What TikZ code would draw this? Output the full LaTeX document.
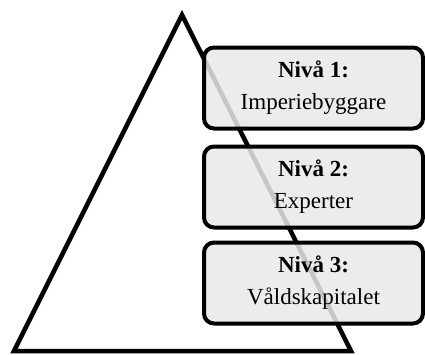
\documentclass[tikz,border=0pt]{standalone}
\usepackage{fontspec}
\setmainfont{Liberation Serif}
\tikzset{
  level/.style={draw=black, line width=4pt, rounded corners=10pt, fill=gray!17, fill opacity=0.85, text opacity=1,
    minimum width=219pt, minimum height=81pt, align=center, inner sep=0pt,
    font=\fontsize{23}{32}\selectfont},
  pyr/.style={draw=black, line width=4.5pt, line join=miter}
}
\begin{document}
\begin{tikzpicture}[x=1pt,y=-1pt]
\useasboundingbox (0,0) rectangle (425,354);
\coordinate (apex) at (182,15);
\coordinate (bl) at (14,351);
\coordinate (br) at (351,351);
\draw[pyr] (bl) -- (apex) -- (br) -- cycle;
\node[level] (n1) at (313.5,88) {\textbf{Nivå 1:}\\Imperiebyggare};
\node[level] (n2) at (313.5,187) {\textbf{Nivå 2:}\\Experter};
\node[level] (n3) at (313.5,283) {\textbf{Nivå 3:}\\Våldskapitalet};
\end{tikzpicture}
\end{document}
